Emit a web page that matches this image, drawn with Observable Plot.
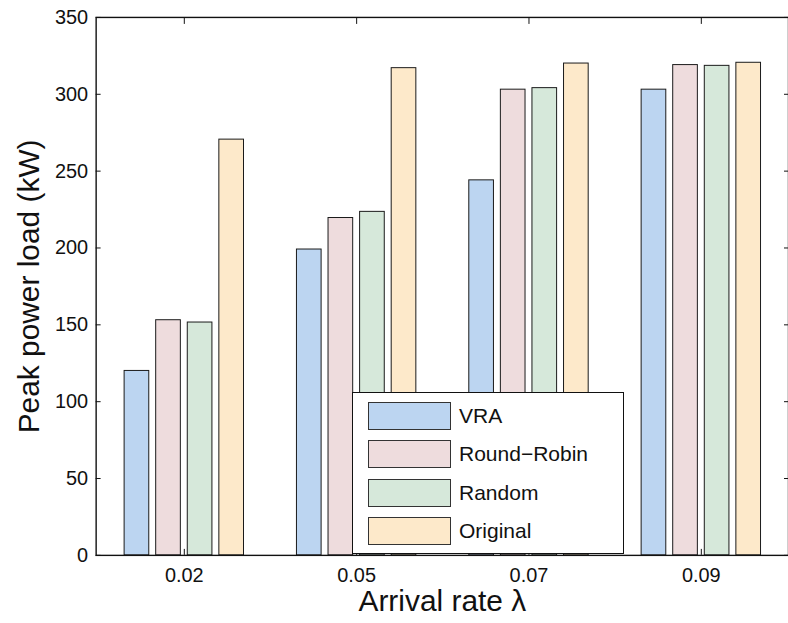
<!DOCTYPE html>
<html>
<head>
<meta charset="utf-8">
<script src="https://cdn.jsdelivr.net/npm/d3@7"></script>
<script src="https://cdn.jsdelivr.net/npm/@observablehq/plot@0.6"></script>
<style>
  html, body { margin: 0; padding: 0; background: #fff; }
  body { width: 788px; height: 623px; overflow: hidden; font-family: "Liberation Sans", Arial, sans-serif; }
  #wrap { position: relative; width: 788px; height: 623px; overflow: hidden; }
  #legend { position: absolute; left: 352px; top: 392px; width: 270px; height: 160px; border: 1.5px solid #111; background: #fff; }
  .row { position: absolute; left: 15px; height: 28px; display: flex; align-items: center; }
  .sw { width: 81px; height: 26px; border: 1px solid #333; box-sizing: content-box; }
  .lab { margin-left: 8px; font-size: 21px; color: #111; }
</style>
</head>
<body>
<div id="wrap"></div>
<script>
const categories = ["0.02", "0.05", "0.07", "0.09"];
const series = ["VRA", "Round\u2212Robin", "Random", "Original"];
const vra = [120, 199, 244, 303];
const roundRobin = [153, 219.5, 303, 319];
const random = [151.5, 223.5, 304, 318.5];
const original = [270.5, 317, 320, 320.5];
const colors = ["#bcd5f1", "#eedcdd", "#d6e8da", "#fde9ca"];
const yTicks = [0, 50, 100, 150, 200, 250, 300, 350];

const values = [vra, roundRobin, random, original];
const data = [];
series.forEach((s, i) => categories.forEach((c, j) => data.push({cat: c, series: s, si: i, value: values[i][j]})));

const W = 791, H = 623;
const mL = 96, mR = 0, mT = 17, mB = 66;
const band = (W - mL - mR) / categories.length;
const barW = 25.5, step = 31.7;
const inset = (band - barW) / 2;

const barMarks = series.map((s, i) =>
  Plot.barY(data.filter(d => d.si === i), {
    x: "cat", y: "value", fill: colors[i], stroke: "#1a1a1a", strokeWidth: 1,
    insetLeft: inset, insetRight: inset, dx: (i - 1.5) * step
  })
);

const chart = Plot.plot({
  width: W, height: H,
  marginLeft: mL, marginRight: mR, marginTop: mT, marginBottom: mB,
  style: {fontFamily: "Liberation Sans, Arial, sans-serif", color: "#111", background: "transparent"},
  x: {type: "band", domain: categories, padding: 0},
  y: {domain: [0, 350]},
  marks: [
    ...barMarks,
    Plot.frame({stroke: "#111", strokeWidth: 1.4}),
    Plot.axisY({anchor: "left", ticks: yTicks, tickSize: 0, tickPadding: 8, fontSize: 20, label: null}),
    Plot.axisY({anchor: "left", ticks: yTicks, tickSize: -5, text: null, label: null}),
    Plot.axisY({anchor: "right", ticks: yTicks, tickSize: -5, text: null, label: null}),
    Plot.axisX({anchor: "bottom", tickSize: 0, tickPadding: 13, fontSize: 20, label: null}),
    Plot.axisX({anchor: "bottom", tickSize: -6, text: null, label: null}),
    Plot.axisX({anchor: "top", tickSize: -6, text: null, label: null}),
    Plot.text(["Arrival rate \u03bb"], {frameAnchor: "bottom", lineAnchor: "middle", textAnchor: "middle", dy: 46, fontSize: 30, fill: "#111"}),
    Plot.text(["Peak power load (kW)"], {frameAnchor: "left", textAnchor: "middle", lineAnchor: "middle", dx: -67, rotate: -90, fontSize: 30, fill: "#111"})
  ]
});

const wrap = document.getElementById("wrap");
wrap.appendChild(chart);

const legend = document.createElement("div");
legend.id = "legend";
series.forEach((s, i) => {
  const row = document.createElement("div");
  row.className = "row";
  row.style.top = (9 + i * 38.3) + "px";
  const sw = document.createElement("div");
  sw.className = "sw";
  sw.style.background = colors[i];
  const lab = document.createElement("span");
  lab.className = "lab";
  lab.textContent = s;
  row.appendChild(sw);
  row.appendChild(lab);
  legend.appendChild(row);
});
wrap.appendChild(legend);
</script>
</body>
</html>
